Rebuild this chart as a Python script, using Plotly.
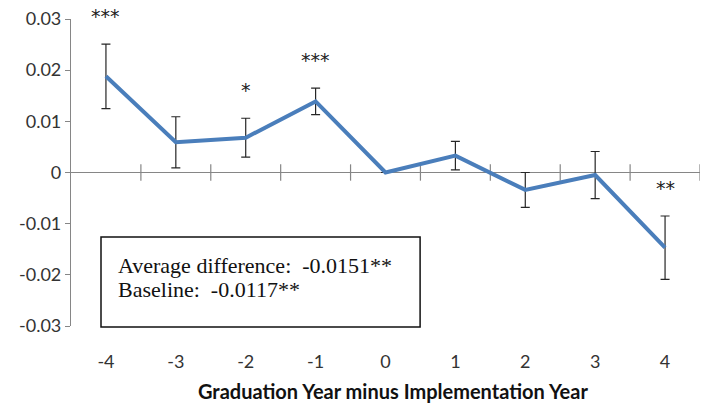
import plotly.graph_objects as go

years = [-4, -3, -2, -1, 0, 1, 2, 3, 4]
estimates = [0.0188, 0.0059, 0.0068, 0.0139, 0.0, 0.0033, -0.0034, -0.0005, -0.0147]
errors = [0.0063, 0.0050, 0.0038, 0.0026, 0.0, 0.0028, 0.0034, 0.0046, 0.0062]
stars = ["***", "", "*", "***", "", "", "", "", "**"]
ytick_vals = [0.03, 0.02, 0.01, 0, -0.01, -0.02, -0.03]
ytick_text = ["0.03", "0.02", "0.01", "0", "-0.01", "-0.02", "-0.03"]
xtick_text = ["-4", "-3", "-2", "-1", "0", "1", "2", "3", "4"]
box_lines = ["Average difference:  -0.0151**", "Baseline:  -0.0117**"]
x_title = "Graduation Year minus Implementation Year"

line_color = "#4A7EBB"
axis_color = "#868686"
sans = "Lato"

fig = go.Figure()
fig.add_trace(go.Scatter(
    x=years, y=estimates, mode="lines",
    line=dict(color=line_color, width=4),
    error_y=dict(type="data", array=errors, visible=True, color="#262626",
                 thickness=1.2, width=4.5),
    showlegend=False, hoverinfo="skip",
))

shapes = []
# category boundary tick marks crossing the zero line
for x in years:
    shapes.append(dict(type="line", xref="x", yref="y",
                       x0=x + 0.5, x1=x + 0.5, y0=-0.0016, y1=0.0016,
                       line=dict(color=axis_color, width=1.2), layer="below"))
shapes.append(dict(type="line", xref="paper", yref="y", x0=0, x1=1, y0=0, y1=0,
                   line=dict(color=axis_color, width=1.2), layer="below"))
# text box
shapes.append(dict(type="rect", xref="paper", yref="paper",
                   x0=0.0477, x1=0.555, y0=-0.003, y1=0.29,
                   line=dict(color="#111", width=1.5), fillcolor="white"))

annotations = []
# significance stars placed a fixed distance above the upper error bound
for x, e, r, s in zip(years, estimates, errors, stars):
    if s:
        annotations.append(dict(text=s, xref="x", yref="y", x=x, y=e + r, yshift=28,
                                xanchor="center", yanchor="middle", showarrow=False,
                                font=dict(family="DejaVu Sans", size=19, color="#222")))
for i, t in enumerate(box_lines):
    annotations.append(dict(text=t, xref="paper", yref="paper",
                            x=0.071, y=0.198 - i * 0.08, xanchor="left", yanchor="middle",
                            showarrow=False,
                            font=dict(family="Liberation Serif", size=22, color="#111")))
annotations.append(dict(text="<b>" + x_title + "</b>", xref="paper", yref="paper",
                        x=0.512, y=-0.212, xanchor="center", yanchor="middle",
                        showarrow=False, font=dict(family=sans, size=20, color="#111")))

fig.update_layout(
    width=704, height=409,
    margin=dict(l=71, r=4, t=19, b=83),
    paper_bgcolor="white", plot_bgcolor="white",
    shapes=shapes, annotations=annotations,
    xaxis=dict(range=[-4.5, 4.5], tickvals=years, ticktext=xtick_text,
               showgrid=False, zeroline=False, showline=False,
               ticks="outside", ticklen=19, tickcolor="rgba(0,0,0,0)",
               tickfont=dict(family=sans, size=18, color="#333")),
    yaxis=dict(range=[-0.03, 0.03], tickvals=ytick_vals, ticktext=ytick_text,
               showgrid=False, zeroline=False, showline=True, linecolor=axis_color,
               linewidth=1.2, ticks="outside", ticklen=5, tickcolor=axis_color,
               tickfont=dict(family=sans, size=18, color="#333")),
)

fig.write_html("out.html")
